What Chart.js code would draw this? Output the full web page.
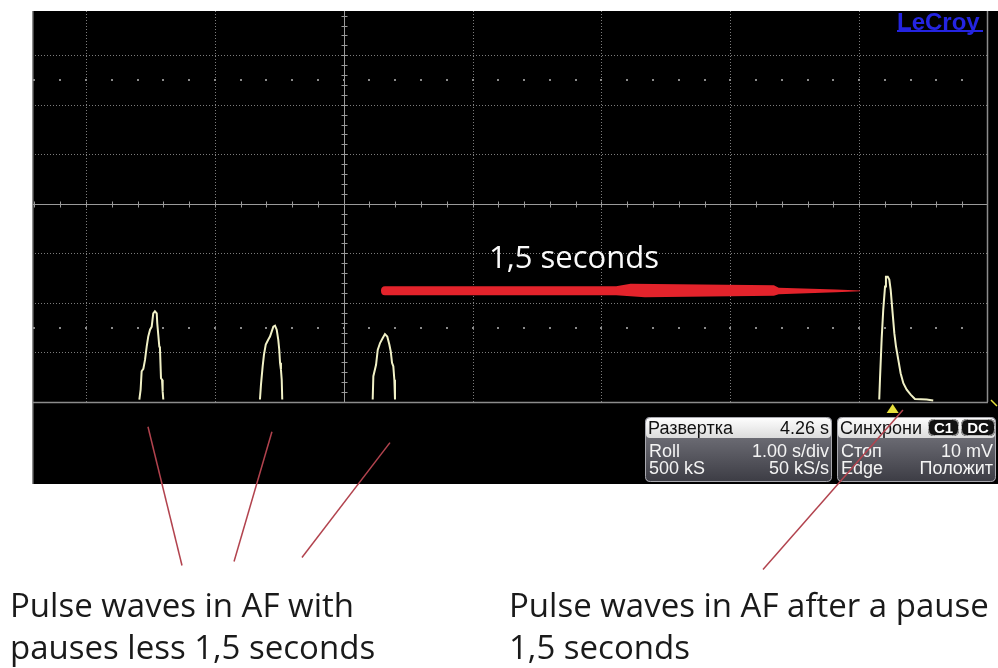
<!DOCTYPE html>
<html>
<head>
<meta charset="utf-8">
<script src="https://cdn.jsdelivr.net/npm/chart.js@4.4.1/dist/chart.umd.min.js"></script>
<style>
  html,body{margin:0;padding:0;background:#fff;}
  #wrap{position:relative;width:998px;height:668px;overflow:hidden;}
  canvas{position:absolute;left:0;top:0;}
  .cap{position:absolute;font-family:"Open Sans",sans-serif;font-size:33px;line-height:42px;color:#1a1a1a;white-space:nowrap;}
</style>
</head>
<body>
<div id="wrap">
  <canvas id="scope" width="998" height="668"></canvas>
  <div class="cap" style="left:10px;top:584px;">Pulse waves in AF with<br>pauses less 1,5 seconds</div>
  <div class="cap" style="left:509px;top:584px;">Pulse waves in AF after a pause<br>1,5 seconds</div>
</div>
<script>
// time in seconds (1.00 s/div), amplitude in divisions
const X_MIN=-2.419, X_MAX=5, Y_MIN=-4, Y_MAX=3.893;
const X_GRID=[-2,-1,1,2,3,4];
const Y_GRID=[-3,-2,-1,1,2,3];
const DOT_ROWS=[2.5,-2.5];

const p1t=[-1.586,-1.576,-1.568,-1.555,-1.542,-1.529,-1.517,-1.503,-1.490,-1.478,-1.465,-1.451,-1.447,-1.431,-1.426,-1.418,-1.410,-1.405,-1.400];
const p1v=[-3.95,-3.75,-3.38,-3.33,-3.15,-2.88,-2.68,-2.54,-2.48,-2.21,-2.17,-2.21,-2.41,-2.88,-2.91,-3.52,-3.55,-3.79,-3.95];
const p2t=[-0.650,-0.642,-0.629,-0.619,-0.605,-0.585,-0.572,-0.559,-0.546,-0.533,-0.520,-0.508,-0.500,-0.494,-0.487,-0.481,-0.477];
const p2v=[-3.95,-3.65,-3.28,-3.05,-2.84,-2.74,-2.68,-2.58,-2.48,-2.46,-2.54,-2.74,-2.95,-3.21,-3.35,-3.55,-3.95];
const p3t=[0.225,0.230,0.251,0.264,0.282,0.303,0.320,0.338,0.354,0.365,0.375,0.385,0.393,0.398];
const p3v=[-3.95,-3.48,-3.25,-2.95,-2.81,-2.71,-2.63,-2.68,-2.84,-2.98,-3.21,-3.28,-3.55,-3.95];
const p4t=[4.156,4.162,4.175,4.187,4.201,4.208,4.222,4.234,4.245,4.260,4.273,4.286,4.304,4.322,4.343,4.369,4.400,4.433,4.524,4.575];
const p4v=[-3.95,-3.52,-2.71,-2.14,-1.67,-1.47,-1.47,-1.53,-1.74,-2.21,-2.61,-2.88,-3.15,-3.42,-3.62,-3.75,-3.85,-3.94,-3.95,-3.97];

const TRIGGER_T=4.26;
const ARROW_T=[0.297,4.006], ARROW_V=-1.755;
const ARROW_LABEL='1,5 seconds';
// annotation pointers [t0,v0,t1,v1]
const POINTERS=[[-1.519,-4.50,-1.255,-7.30],[-0.557,-4.60,-0.851,-7.22],[0.359,-4.82,-0.324,-7.14],[4.340,-4.16,3.254,-7.38]];

const pts=(t,v)=>t.map((x,i)=>({x,y:v[i]}));
const TRACE='#f1f1c6';

function rr(ctx,x,y,w,h,r){ctx.beginPath();ctx.moveTo(x+r,y);ctx.lineTo(x+w-r,y);ctx.quadraticCurveTo(x+w,y,x+w,y+r);ctx.lineTo(x+w,y+h-r);ctx.quadraticCurveTo(x+w,y+h,x+w-r,y+h);ctx.lineTo(x+r,y+h);ctx.quadraticCurveTo(x,y+h,x,y+h-r);ctx.lineTo(x,y+r);ctx.quadraticCurveTo(x,y,x+r,y);ctx.closePath();}

const scopePlugin={
  id:'scope',
  beforeDraw(chart){
    const ctx=chart.ctx, xs=chart.scales.x, ys=chart.scales.y;
    const {left,right,top,bottom}=chart.chartArea;
    ctx.save();
    ctx.fillStyle='#fff';ctx.fillRect(0,0,chart.width,chart.height);
    ctx.fillStyle='#000';ctx.fillRect(left,top,998-left,484-top);
    // dotted grid
    ctx.strokeStyle='#7c7c7c';ctx.lineWidth=1;ctx.setLineDash([1,2]);
    X_GRID.forEach(t=>{const x=Math.round(xs.getPixelForValue(t))+0.5;ctx.beginPath();ctx.moveTo(x,top);ctx.lineTo(x,bottom);ctx.stroke();});
    Y_GRID.forEach(v=>{const y=Math.round(ys.getPixelForValue(v))+0.5;ctx.beginPath();ctx.moveTo(left,y);ctx.lineTo(right,y);ctx.stroke();});
    ctx.setLineDash([]);
    // dot rows
    ctx.fillStyle='#8a8a8a';
    DOT_ROWS.forEach(v=>{const y=Math.round(ys.getPixelForValue(v));
      for(let t=-2.4;t<X_MAX;t+=0.2){const x=Math.round(xs.getPixelForValue(t));ctx.fillRect(x-1,y-1,2,2);}});
    // centre axes with minor ticks
    ctx.strokeStyle='#9a9a9a';
    const cx=Math.round(xs.getPixelForValue(0))+0.5, cy=Math.round(ys.getPixelForValue(0))+0.5;
    ctx.beginPath();ctx.moveTo(cx,top);ctx.lineTo(cx,bottom);ctx.moveTo(left,cy);ctx.lineTo(right,cy);ctx.stroke();
    ctx.beginPath();
    for(let t=-2.4;t<X_MAX;t+=0.2){const x=Math.round(xs.getPixelForValue(t))+0.5;ctx.moveTo(x,cy-3);ctx.lineTo(x,cy+3);}
    for(let v=-3.8;v<Y_MAX;v+=0.2){const y=Math.round(ys.getPixelForValue(v))+0.5;ctx.moveTo(cx-3,y);ctx.lineTo(cx+3,y);}
    ctx.stroke();
    // borders
    ctx.strokeStyle='#8c8c8c';ctx.lineWidth=1.5;
    ctx.beginPath();ctx.moveTo(left+0.75,top);ctx.lineTo(left+0.75,484);
    ctx.moveTo(left,bottom+0.5);ctx.lineTo(right,bottom+0.5);
    ctx.moveTo(right-0.5,top);ctx.lineTo(right-0.5,bottom);ctx.stroke();
    // LeCroy logo
    ctx.fillStyle='#2424e0';ctx.font='bold 24px "Liberation Sans",Arial,sans-serif';
    ctx.textBaseline='alphabetic';ctx.textAlign='left';ctx.fillText('LeCroy',897,30);
    ctx.fillRect(897,30,86,2);
    ctx.restore();
  },
  afterDatasetsDraw(chart){
    const ctx=chart.ctx, xs=chart.scales.x, ys=chart.scales.y;
    ctx.save();
    // red arrow
    const ax0=xs.getPixelForValue(ARROW_T[0]), ax1=xs.getPixelForValue(ARROW_T[1]), ay=ys.getPixelForValue(ARROW_V);
    const L=ax1-ax0, f=k=>ax0+L*k;
    ctx.fillStyle='#e3232b';
    ctx.beginPath();
    ctx.moveTo(ax0+3,ay-4.5);
    ctx.lineTo(f(0.49),ay-4.5);
    ctx.lineTo(f(0.52),ay-7);
    ctx.lineTo(f(0.82),ay-5.5);
    ctx.lineTo(f(0.83),ay-3);
    ctx.lineTo(f(0.95),ay-1.2);
    ctx.lineTo(ax1,ay-0.4);
    ctx.lineTo(ax1,ay+0.4);
    ctx.lineTo(f(0.95),ay+1.4);
    ctx.lineTo(f(0.83),ay+3.5);
    ctx.lineTo(f(0.82),ay+5);
    ctx.lineTo(f(0.55),ay+6.5);
    ctx.lineTo(f(0.49),ay+4.5);
    ctx.lineTo(ax0+3,ay+4.5);
    ctx.quadraticCurveTo(ax0-1,ay+4.5,ax0-1,ay);
    ctx.quadraticCurveTo(ax0-1,ay-4.5,ax0+3,ay-4.5);
    ctx.closePath();ctx.fill();
    // label
    ctx.fillStyle='#fafafa';ctx.font='31px "Open Sans",sans-serif';ctx.textAlign='center';ctx.textBaseline='alphabetic';
    ctx.fillText(ARROW_LABEL,(ax0+ax1)/2-47,268);
    // trigger marker
    const tx=xs.getPixelForValue(TRIGGER_T), by=ys.getPixelForValue(Y_MIN);
    ctx.fillStyle='#e6df3c';
    ctx.beginPath();ctx.moveTo(tx,by+2);ctx.lineTo(tx+6,by+11);ctx.lineTo(tx-6,by+11);ctx.closePath();ctx.fill();
    ctx.strokeStyle='#e6df3c';ctx.lineWidth=1.5;
    ctx.beginPath();ctx.moveTo(991,by-2);ctx.lineTo(997,by+4);ctx.stroke();
    // info boxes
    const box=(x,w,head,headR,rows)=>{
      const y=417,h=65;
      const g=ctx.createLinearGradient(0,y+21,0,y+h);g.addColorStop(0,'#6a6a72');g.addColorStop(1,'#3c3c44');
      ctx.fillStyle=g;rr(ctx,x,y,w,h,5);ctx.fill();
      const hg=ctx.createLinearGradient(0,y,0,y+21);hg.addColorStop(0,'#ffffff');hg.addColorStop(1,'#dcdcdc');
      ctx.fillStyle=hg;rr(ctx,x+1,y+1,w-2,20,4);ctx.fill();
      ctx.strokeStyle='#a8a8ae';ctx.lineWidth=1;rr(ctx,x+0.5,y+0.5,w-1,h-1,5);ctx.stroke();
      ctx.font='18px "Liberation Sans",Arial,sans-serif';ctx.textBaseline='alphabetic';
      ctx.fillStyle='#111';ctx.textAlign='left';ctx.fillText(head,x+3,y+17);
      if(headR){ctx.textAlign='right';ctx.fillText(headR,x+w-3,y+17);}
      ctx.fillStyle='#f4f4f4';
      rows.forEach((r,i)=>{const yy=y+40+i*17;ctx.textAlign='left';ctx.fillText(r[0],x+4,yy);ctx.textAlign='right';ctx.fillText(r[1],x+w-3,yy);});
    };
    box(645,187,'Развертка','4.26 s',[['Roll','1.00 s/div'],['500 kS','50 kS/s']]);
    box(837,159,'Синхрони',null,[['Стоп','10 mV'],['Edge','Положит']]);
    // channel badges
    [['C1',928,31],['DC',961,34]].forEach(([s,x,w])=>{
      ctx.fillStyle='#111';rr(ctx,x,419,w,17,6);ctx.fill();
      ctx.strokeStyle='#bbb';ctx.lineWidth=1;rr(ctx,x+0.5,419.5,w-1,16,6);ctx.stroke();
      ctx.fillStyle='#fff';ctx.font='bold 15px "Liberation Sans",Arial,sans-serif';ctx.textAlign='center';
      ctx.fillText(s,x+w/2,433);
    });
    // pointers
    ctx.strokeStyle='#b2434e';ctx.lineWidth=1.5;
    POINTERS.forEach(([t0,v0,t1,v1])=>{ctx.beginPath();ctx.moveTo(xs.getPixelForValue(t0),ys.getPixelForValue(v0));ctx.lineTo(xs.getPixelForValue(t1),ys.getPixelForValue(v1));ctx.stroke();});
    ctx.restore();
  }
};

const pulse=(t,v)=>({data:pts(t,v),borderColor:TRACE,borderWidth:2,pointRadius:0,tension:0,fill:false,clip:false});

new Chart(document.getElementById('scope'),{
  type:'line',
  data:{datasets:[pulse(p1t,p1v),pulse(p2t,p2v),pulse(p3t,p3v),pulse(p4t,p4v)]},
  options:{
    responsive:false,devicePixelRatio:1,animation:false,
    layout:{padding:{left:32,top:11,right:10,bottom:266}},
    plugins:{legend:{display:false},tooltip:{enabled:false}},
    scales:{
      x:{type:'linear',min:X_MIN,max:X_MAX,display:false},
      y:{type:'linear',min:Y_MIN,max:Y_MAX,display:false}
    }
  },
  plugins:[scopePlugin]
});
</script>
</body>
</html>
